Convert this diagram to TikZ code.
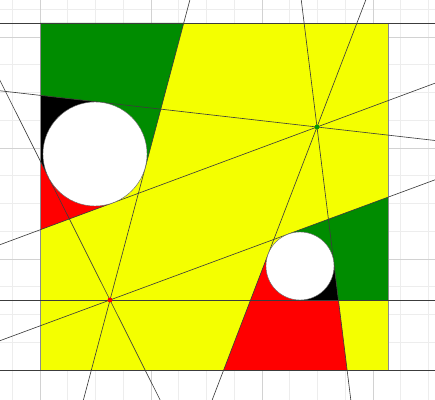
\documentclass[tikz,border=0pt]{standalone}
\usepackage{tikz}
\usetikzlibrary{calc}
\definecolor{sketchyellow}{HTML}{F4FF00}
\definecolor{sketchgreen}{HTML}{008C00}
\definecolor{sketchred}{HTML}{FF0000}
\definecolor{dotgreen}{HTML}{009A00}
\definecolor{gridminor}{HTML}{EDEDED}
\definecolor{gridmajor}{HTML}{D2D2D2}
\definecolor{linegrey}{HTML}{3C3C3C}

\begin{document}
\begin{tikzpicture}[x=0.025cm, y=-0.025cm,
    tangentline/.style={linegrey, line width=0.45pt},
    squareedge/.style={black!45, line width=0.6pt},
    disc/.style={circle, fill=white, draw=black!60, line width=0.3pt, inner sep=0pt, outer sep=0pt}]
  \useasboundingbox (0,0) rectangle (435,400);
  \clip (0,0) rectangle (435,400);
  % background grid
  \foreach \k in {0,...,15}
    \draw[gridminor, line width=0.4pt] ({12.25+27.75*\k},0) -- ({12.25+27.75*\k},400);
  \foreach \k in {0,...,14}
    \draw[gridminor, line width=0.4pt] (0,{370-27.75*\k}) -- (435,{370-27.75*\k});
  \foreach \k in {0,...,3} {
    \draw[gridmajor, line width=0.5pt] ({40+111*\k},0) -- ({40+111*\k},400);
    \draw[gridmajor, line width=0.5pt] (0,{370-111*\k}) -- (435,{370-111*\k});
  }
  % square, points and discs
  \coordinate (tl) at (40,23);
  \coordinate (tr) at (388,23);
  \coordinate (br) at (388,370);
  \coordinate (bl) at (40,370);
  \coordinate (R) at (110,300);
  \coordinate (G) at (317,127);
  \coordinate (C1) at (95,154);
  \coordinate (C2) at (300,266);
  % tangent points, large disc
  \coordinate (P1) at (48.5,177.3);
  \coordinate (P2) at (145.3,167.4);
  \coordinate (Q1) at (100.9,102.3);
  \coordinate (Q2) at (113.1,202.7);
  % tangent points, small disc
  \coordinate (S1) at (268.3,253.8);
  \coordinate (S2) at (333.7,261.8);
  \coordinate (S3) at (288.2,234.1);
  \coordinate (S4) at (300,300);
  % where the lines meet the square
  \coordinate (L2top) at (intersection of R--P2 and tl--tr);
  \coordinate (T1left) at (intersection of G--Q1 and tl--bl);
  \coordinate (L1left) at (intersection of R--P1 and tl--bl);
  \coordinate (T2left) at (intersection of G--Q2 and tl--bl);
  \coordinate (S1bot) at (intersection of G--S1 and bl--br);
  \coordinate (S2bot) at (intersection of G--S2 and bl--br);
  \coordinate (S2mid) at (intersection of G--S2 and R--S4);
  \coordinate (S3right) at (intersection of R--S3 and tr--br);
  \coordinate (S4right) at (intersection of R--S4 and tr--br);
  % regions
  \fill[sketchyellow] (tl) rectangle (br);
  \fill[sketchgreen] (tl) -- (L2top) -- (P2) -- (C1) -- (Q1) -- (T1left) -- cycle;
  \fill[black] (T1left) -- (Q1) -- (C1) -- (P1) -- (L1left) -- cycle;
  \fill[sketchred] (L1left) -- (P1) -- (C1) -- (Q2) -- (T2left) -- cycle;
  \fill[sketchred] (S1bot) -- (S1) -- (C2) -- (S4) -- (S2mid) -- (S2bot) -- cycle;
  \fill[black] (S4) -- (S2mid) -- (S2) -- (C2) -- cycle;
  \fill[sketchgreen] (S3) -- (S3right) -- (S4right) -- (S2mid) -- (S2) -- (C2) -- cycle;
  \draw[squareedge] (tl) -- (bl) (tr) -- (br);
  % lines
  \draw[tangentline] ($(tl)!-1!(tr)$) -- ($(tr)!-1!(tl)$);
  \draw[tangentline] ($(bl)!-1!(br)$) -- ($(br)!-1!(bl)$);
  \draw[tangentline] ($(R)!-2!(P1)$) -- ($(R)!4!(P1)$);
  \draw[tangentline] ($(R)!-2!(P2)$) -- ($(R)!4!(P2)$);
  \draw[tangentline] ($(R)!-2!(S3)$) -- ($(R)!4!(S3)$);
  \draw[tangentline] ($(R)!-2!(S4)$) -- ($(R)!3!(S4)$);
  \draw[tangentline] ($(G)!-2!(Q1)$) -- ($(G)!3!(Q1)$);
  \draw[tangentline] ($(G)!-2!(Q2)$) -- ($(G)!3!(Q2)$);
  \draw[tangentline] ($(G)!-3!(S1)$) -- ($(G)!4!(S1)$);
  \draw[tangentline] ($(G)!-3!(S2)$) -- ($(G)!4!(S2)$);
  \node[disc, minimum size=2.6cm] (bigdisc) at (C1) {};
  \node[disc, minimum size=1.7cm] (smalldisc) at (C2) {};
  \fill[sketchred] (R) circle[radius=2.4];
  \fill[dotgreen] (G) circle[radius=2.4];
\end{tikzpicture}
\end{document}
